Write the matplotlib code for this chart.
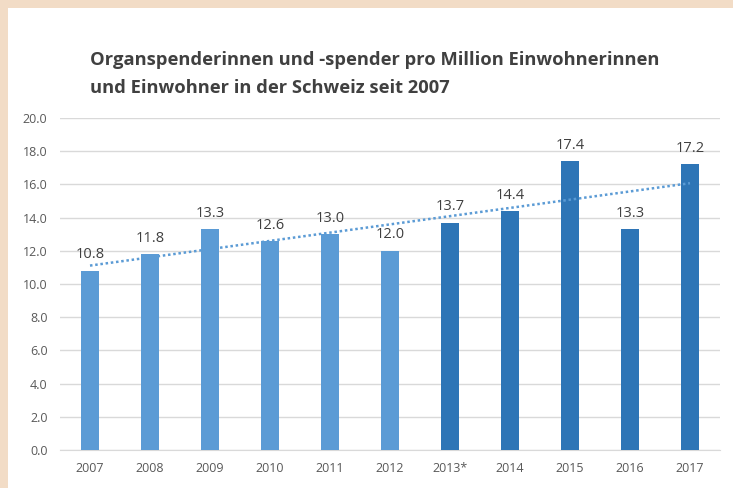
import matplotlib
matplotlib.use("Agg")
import matplotlib.pyplot as plt
from matplotlib.patches import Rectangle
import numpy as np

# data
years = ["2007", "2008", "2009", "2010", "2011", "2012", "2013*", "2014", "2015", "2016", "2017"]
donors = [10.8, 11.8, 13.3, 12.6, 13.0, 12.0, 13.7, 14.4, 17.4, 13.3, 17.2]
yticks = [0, 2, 4, 6, 8, 10, 12, 14, 16, 18, 20]

light = "#5B9BD5"
dark = "#2E75B6"
colors = [light] * 6 + [dark] * 5

plt.rcParams['font.family'] = ['Open Sans', 'DejaVu Sans']

fig = plt.figure(figsize=(7.33, 4.88), dpi=100)
fig.patch.set_facecolor("#F2DCC6")
# white panel behind everything
fig.add_artist(Rectangle((8 / 733, 0), 1, 1 - 8 / 488, transform=fig.transFigure,
                         facecolor="white", edgecolor="none", zorder=-10))

ax = fig.add_axes([60 / 733, 38 / 488, 660 / 733, 332 / 488])
ax.set_zorder(1)
ax.set_facecolor("none")

x = np.arange(len(years))
ax.bar(x, donors, width=0.3, color=colors, zorder=3)

# linear trendline
k, d = np.polyfit(x, donors, 1)
ax.plot(x, k * x + d, linestyle=(0, (1, 1.1)), color=light, linewidth=1.8, zorder=4)

for xi, v in zip(x, donors):
    ax.text(xi, v + 0.5, f"{v:.1f}", ha="center", va="bottom", fontsize=10.5, color="#404040")

ax.set_xlim(-0.5, len(years) - 0.5)
ax.set_ylim(0, 20)
ax.set_yticks(yticks)
ax.set_yticklabels([f"{t:.1f}" for t in yticks])
ax.set_xticks(x)
ax.set_xticklabels(years)
ax.grid(axis="y", color="#D9D9D9", linewidth=1, zorder=0)
for s in ["top", "right", "left"]:
    ax.spines[s].set_visible(False)
ax.spines["bottom"].set_color("#D9D9D9")
ax.tick_params(length=0, labelsize=9, colors="#595959")
ax.tick_params(axis="x", pad=9)
ax.tick_params(axis="y", pad=9)

fig.text(90 / 733, 1 - 60 / 488, "Organspenderinnen und -spender pro Million Einwohnerinnen",
         fontsize=13.2, fontweight="bold", color="#404040", va="center", ha="left")
fig.text(90 / 733, 1 - 88 / 488, "und Einwohner in der Schweiz seit 2007",
         fontsize=13.2, fontweight="bold", color="#404040", va="center", ha="left")

fig.savefig("out.png", dpi=100, facecolor=fig.get_facecolor())
